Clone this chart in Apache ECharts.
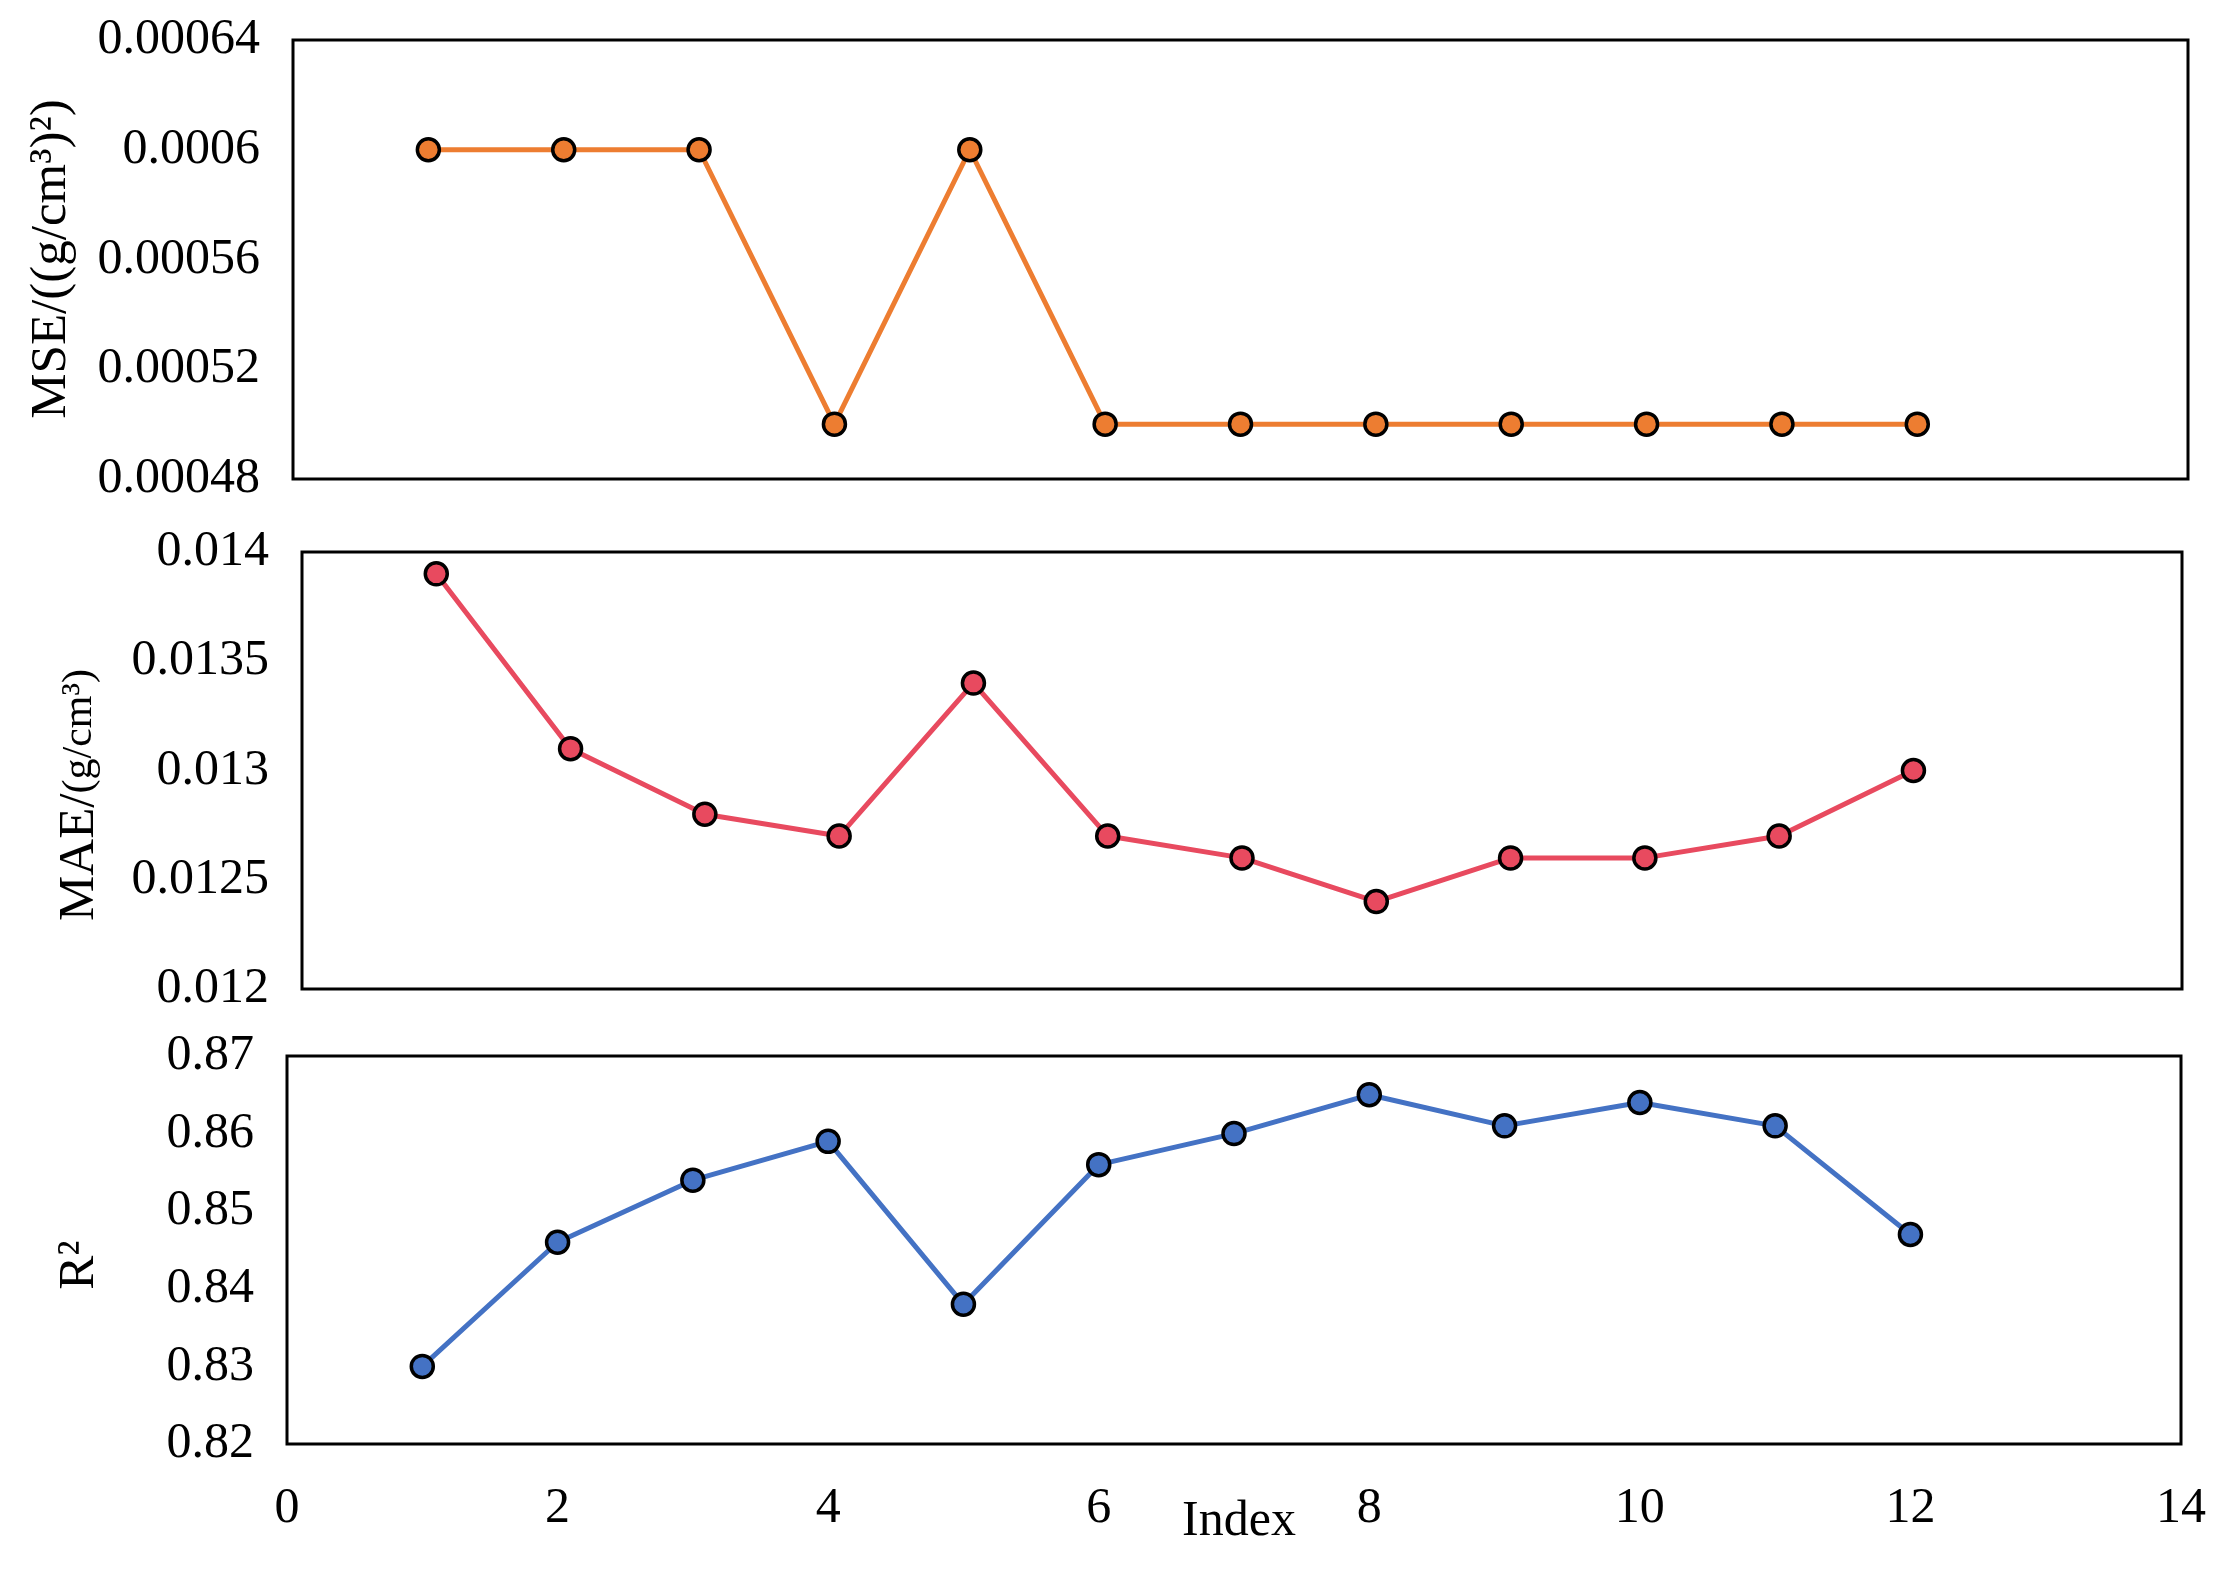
<!DOCTYPE html>
<html>
<head>
<meta charset="utf-8">
<script src="https://cdn.jsdelivr.net/npm/echarts@6/dist/echarts.min.js"></script>
<style>
html,body{margin:0;padding:0;background:#fff;}
#chart{width:2226px;height:1571px;}
</style>
</head>
<body>
<div id="chart"></div>
<script>
// ---- data ----
const indexVals = [1, 2, 3, 4, 5, 6, 7, 8, 9, 10, 11, 12];
const mseVals = [0.0006, 0.0006, 0.0006, 0.0005, 0.0006, 0.0005, 0.0005, 0.0005, 0.0005, 0.0005, 0.0005, 0.0005];
const maeVals = [0.0139, 0.0131, 0.0128, 0.0127, 0.0134, 0.0127, 0.0126, 0.0124, 0.0126, 0.0126, 0.0127, 0.0130];
const r2Vals = [0.830, 0.846, 0.854, 0.859, 0.838, 0.856, 0.860, 0.865, 0.861, 0.864, 0.861, 0.847];
const xTicks = [0, 2, 4, 6, 8, 10, 12, 14];
const mseTicks = [0.00048, 0.00052, 0.00056, 0.0006, 0.00064];
const maeTicks = [0.012, 0.0125, 0.013, 0.0135, 0.014];
const r2Ticks = [0.82, 0.83, 0.84, 0.85, 0.86, 0.87];

const FONT = '"Liberation Serif", "Times New Roman", serif';
const pairs = vals => indexVals.map((x, i) => [x, vals[i]]);

const chart = echarts.init(document.getElementById('chart'), null, {renderer: 'canvas'});

function xAxisCfg(gi, showLabels) {
  return {
    type: 'value', gridIndex: gi,
    min: xTicks[0], max: xTicks[xTicks.length - 1], interval: xTicks[1] - xTicks[0],
    axisLine: {show: false}, axisTick: {show: false}, splitLine: {show: false},
    axisLabel: {show: showLabels, fontFamily: FONT, fontSize: 50, color: '#000', margin: 40}
  };
}
function yAxisCfg(gi, ticks, dec) {
  return {
    type: 'value', gridIndex: gi,
    min: ticks[0], max: ticks[ticks.length - 1], interval: +(ticks[1] - ticks[0]).toFixed(dec + 2),
    axisLine: {show: false}, axisTick: {show: false}, splitLine: {show: false},
    axisLabel: {
      fontFamily: FONT, fontSize: 50, color: '#000', margin: 33,
      formatter: v => String(parseFloat(v.toFixed(dec)))
    }
  };
}
function lineSeries(idx, vals, color) {
  return {
    type: 'line', xAxisIndex: idx, yAxisIndex: idx,
    data: pairs(vals),
    symbol: 'circle', symbolSize: 22,
    lineStyle: {color: color, width: 5},
    itemStyle: {color: color, borderColor: '#000', borderWidth: 3.5},
    z: 5
  };
}

const gridBase = {show: true, borderColor: '#000', borderWidth: 3, backgroundColor: 'transparent', containLabel: false};

chart.setOption({
  animation: false,
  backgroundColor: '#fff',
  grid: [
    Object.assign({left: 293, top: 40, width: 1895, height: 439}, gridBase),
    Object.assign({left: 302, top: 552, width: 1880, height: 437}, gridBase),
    Object.assign({left: 287, top: 1056, width: 1894, height: 388}, gridBase)
  ],
  xAxis: [xAxisCfg(0, false), xAxisCfg(1, false), xAxisCfg(2, true)],
  yAxis: [yAxisCfg(0, mseTicks, 5), yAxisCfg(1, maeTicks, 4), yAxisCfg(2, r2Ticks, 2)],
  series: [
    lineSeries(0, mseVals, '#ED7D31'),
    lineSeries(1, maeVals, '#E84A5F'),
    lineSeries(2, r2Vals, '#4472C4')
  ],
  graphic: [
    {type: 'text', x: 52, y: 259, rotation: Math.PI / 2,
     style: {text: 'MSE/((g/cm³)²)', font: '51px ' + FONT, fill: '#000', textAlign: 'center', textVerticalAlign: 'middle'}},
    {type: 'text', x: 80, y: 795, rotation: Math.PI / 2,
     style: {text: '{a|MAE/}{b|(g/cm³)}', fill: '#000', textAlign: 'center', textVerticalAlign: 'middle',
       rich: {a: {fontFamily: FONT, fontSize: 51, fill: '#000'}, b: {fontFamily: FONT, fontSize: 42, fill: '#000'}}}},
    {type: 'text', x: 80, y: 1265, rotation: Math.PI / 2,
     style: {text: 'R²', font: '51px ' + FONT, fill: '#000', textAlign: 'center', textVerticalAlign: 'middle'}},
    {type: 'text', x: 1239, y: 1522,
     style: {text: 'Index', font: '50px ' + FONT, fill: '#000', textAlign: 'center', textVerticalAlign: 'middle'}}
  ]
});
</script>
</body>
</html>
